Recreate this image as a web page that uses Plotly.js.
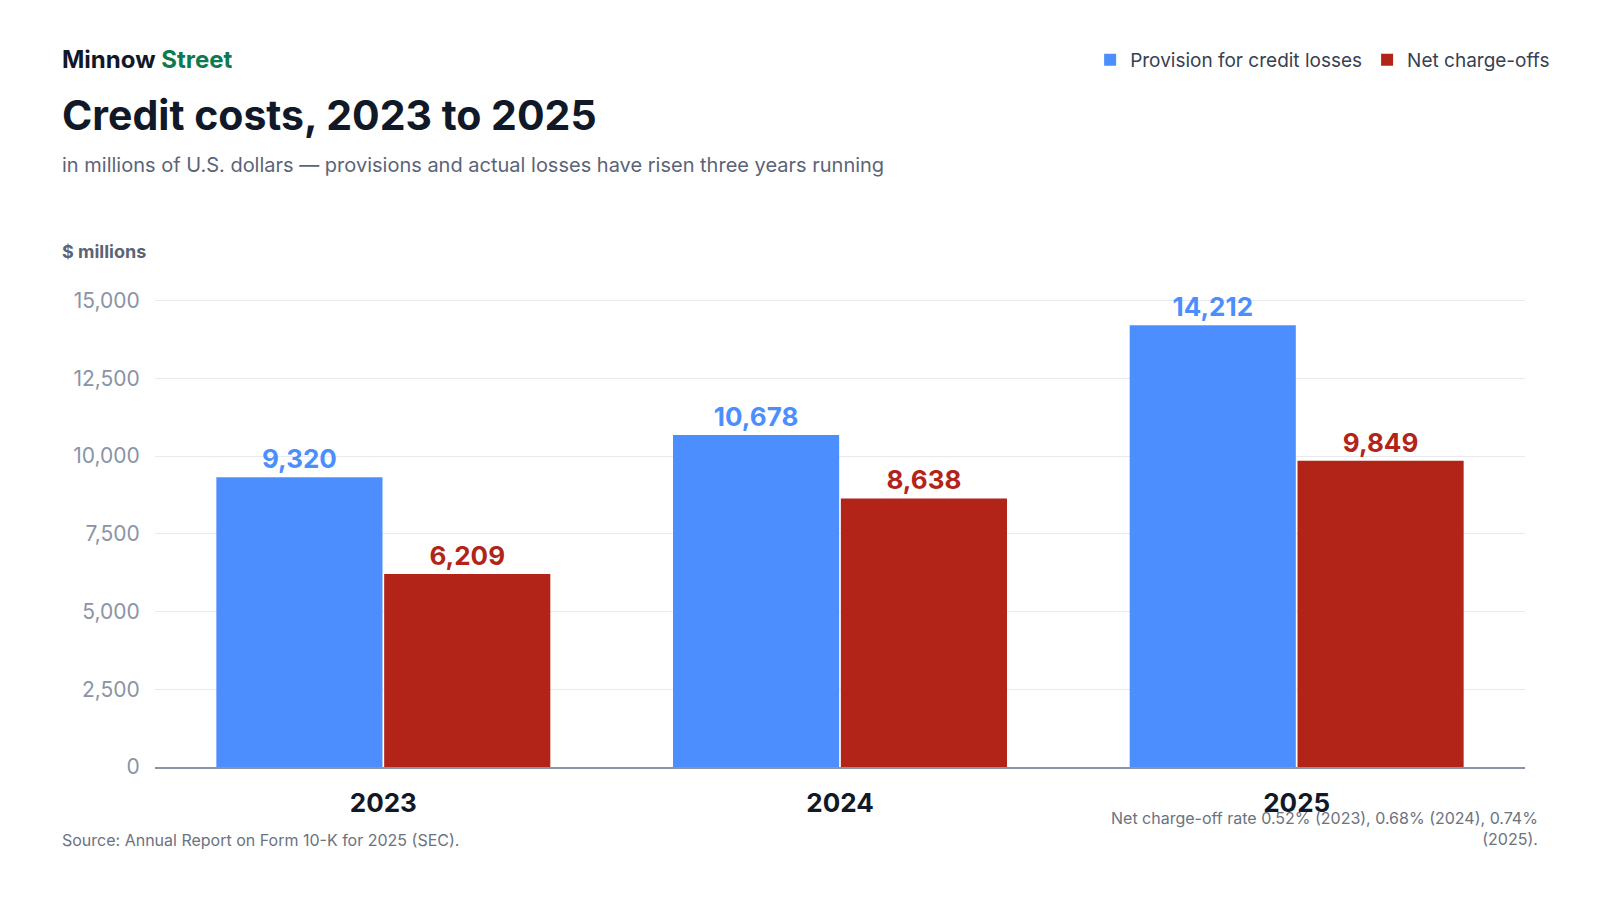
<!DOCTYPE html>
<html>
<head>
<meta charset="utf-8">
<script src="https://cdn.plot.ly/plotly-3.0.1.min.js"></script>
<style>html,body{margin:0;padding:0;background:#fff;}#chart{width:1600px;height:900px;}</style>
</head>
<body>
<div id="chart"></div>
<script>
var years = ['2023', '2024', '2025'];
var provision = [9320, 10678, 14212];
var chargeOffs = [6209, 8638, 9849];
var yTicks = [0, 2500, 5000, 7500, 10000, 12500, 15000];

var BLUE = '#4D8EFF';
var RED = '#B22418';
var FONT = 'Inter, "Noto Sans", sans-serif';

function series(name, vals, color) {
  return {
    type: 'bar', name: name, x: years, y: vals,
    marker: { color: color, line: { width: 0 } },
    texttemplate: '<b>%{y:,}</b>', textposition: 'outside',
    textfont: { size: 26, color: color, family: FONT },
    cliponaxis: false, hoverinfo: 'skip'
  };
}

var layout = {
  width: 1600, height: 900,
  margin: { l: 155, r: 75, t: 282, b: 133 },
  paper_bgcolor: '#fff', plot_bgcolor: '#fff',
  font: { family: FONT },
  barmode: 'group', bargap: 0.265, bargroupgap: 0.01,
  showlegend: true,
  legend: {
    orientation: 'h', x: 1.022, xanchor: 'right', y: 1.458, yanchor: 'middle',
    font: { size: 19, color: '#374151', family: FONT }, itemwidth: 30
  },
  xaxis: {
    tickvals: years, ticktext: years.map(function (y) { return '<b>' + y + '</b>'; }),
    tickfont: { size: 26, color: '#111827', family: FONT },
    showline: true, linecolor: '#8a94a6', linewidth: 1.5,
    showgrid: false, ticks: 'outside', ticklen: 12, tickcolor: 'rgba(0,0,0,0)', fixedrange: true
  },
  yaxis: {
    range: [0, 15600], tickvals: yTicks, tickformat: ',',
    tickfont: { size: 21, color: '#8a94a6', family: FONT },
    gridcolor: '#e8eaee', zeroline: false, ticks: 'outside', ticklen: 10,
    tickcolor: 'rgba(0,0,0,0)', fixedrange: true
  },
  annotations: [
    { xref: 'paper', yref: 'paper', x: -0.069, y: 1.458, xanchor: 'left', yanchor: 'middle', showarrow: false,
      text: '<b><span style="color:#111827">Minnow</span> <span style="color:#0E7A4F">Street</span></b>',
      font: { size: 24, family: FONT } },
    { xref: 'paper', yref: 'paper', x: -0.069, y: 1.344, xanchor: 'left', yanchor: 'middle', showarrow: false,
      text: '<b>Credit costs, 2023 to 2025</b>', font: { size: 41, color: '#111827', family: FONT } },
    { xref: 'paper', yref: 'paper', x: -0.069, y: 1.241, xanchor: 'left', yanchor: 'middle', showarrow: false,
      text: 'in millions of U.S. dollars — provisions and actual losses have risen three years running',
      font: { size: 20, color: '#5b6477', family: FONT } },
    { xref: 'paper', yref: 'paper', x: -0.069, y: 1.062, xanchor: 'left', yanchor: 'middle', showarrow: false,
      text: '<b>$ millions</b>', font: { size: 18, color: '#5b6477', family: FONT } },
    { xref: 'paper', yref: 'paper', x: -0.069, y: -0.15, xanchor: 'left', yanchor: 'middle', showarrow: false,
      text: 'Source: Annual Report on Form 10-K for 2025 (SEC).', font: { size: 16, color: '#6b7280', family: FONT } },
    { xref: 'paper', yref: 'paper', x: 1.011, y: -0.126, xanchor: 'right', yanchor: 'middle', showarrow: false, align: 'right',
      text: 'Net charge-off rate 0.52% (2023), 0.68% (2024), 0.74%<br>(2025).', font: { size: 16, color: '#6b7280', family: FONT } }
  ]
};

Plotly.newPlot('chart', [
  series('Provision for credit losses', provision, BLUE),
  series('Net charge-offs', chargeOffs, RED)
], layout, { displayModeBar: false, staticPlot: true });
</script>
</body>
</html>
